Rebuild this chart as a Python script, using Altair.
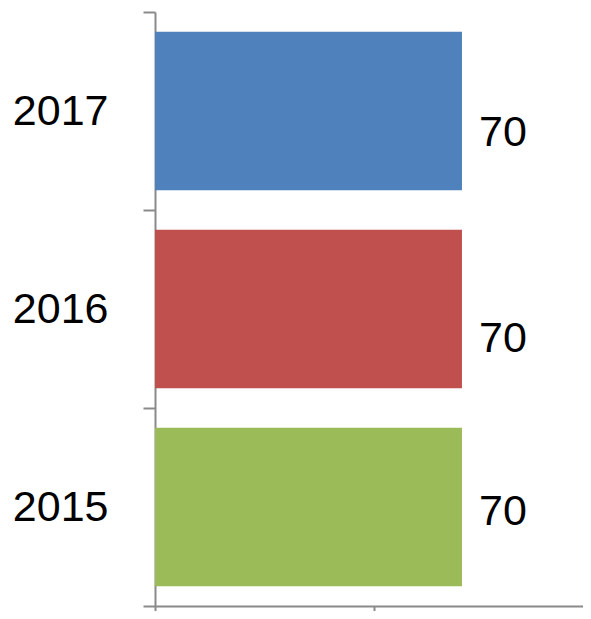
import altair as alt
import pandas as pd

years = ["2017", "2016", "2015"]
values = [70, 70, 70]
colors = ["#4F81BD", "#C0504D", "#9BBB59"]
label_dy = {"2017": 22, "2016": 30, "2015": 5}

df = pd.DataFrame({"year": years, "value": values})

FONT = "Liberation Sans"
GRAY = "#8A8A8A"

y_enc = alt.Y(
    "year:N",
    sort=years,
    scale=alt.Scale(paddingInner=0, paddingOuter=0),
    axis=alt.Axis(
        title=None,
        tickBand="extent",
        labelFontSize=43,
        labelFont=FONT,
        labelColor="black",
        labelPadding=35,
        tickSize=12,
        tickWidth=2,
        tickColor=GRAY,
        domainColor=GRAY,
        domainWidth=2,
        grid=False,
    ),
)

x_enc = alt.X(
    "value:Q",
    scale=alt.Scale(domain=[0, 97.6], nice=False, zero=True),
    axis=alt.Axis(
        title=None,
        labels=False,
        values=[0, 50],
        tickSize=9,
        tickWidth=2,
        tickColor=GRAY,
        domainColor=GRAY,
        domainWidth=2,
        grid=False,
    ),
)

bars = alt.Chart(df).mark_bar(height={"band": 0.8}).encode(
    x=x_enc,
    y=y_enc,
    color=alt.Color("year:N", scale=alt.Scale(domain=years, range=colors), legend=None),
)

texts = []
for yr in years:
    texts.append(
        alt.Chart(df).transform_filter(alt.datum.year == yr).mark_text(
            align="left", baseline="middle", dx=17, dy=label_dy[yr],
            fontSize=43, font=FONT, color="black"
        ).encode(x="value:Q", y=alt.Y("year:N", sort=years), text="value:Q")
    )

chart = alt.layer(bars, *texts).properties(
    width=428,
    height=594,
    background="white",
    autosize=alt.AutoSizeParams(type="none"),
    padding={"left": 147, "top": 4, "right": 0, "bottom": 5},
).configure_view(stroke=None, strokeWidth=0)

chart.save("out.html", embed_options={"renderer": "svg", "actions": False})
